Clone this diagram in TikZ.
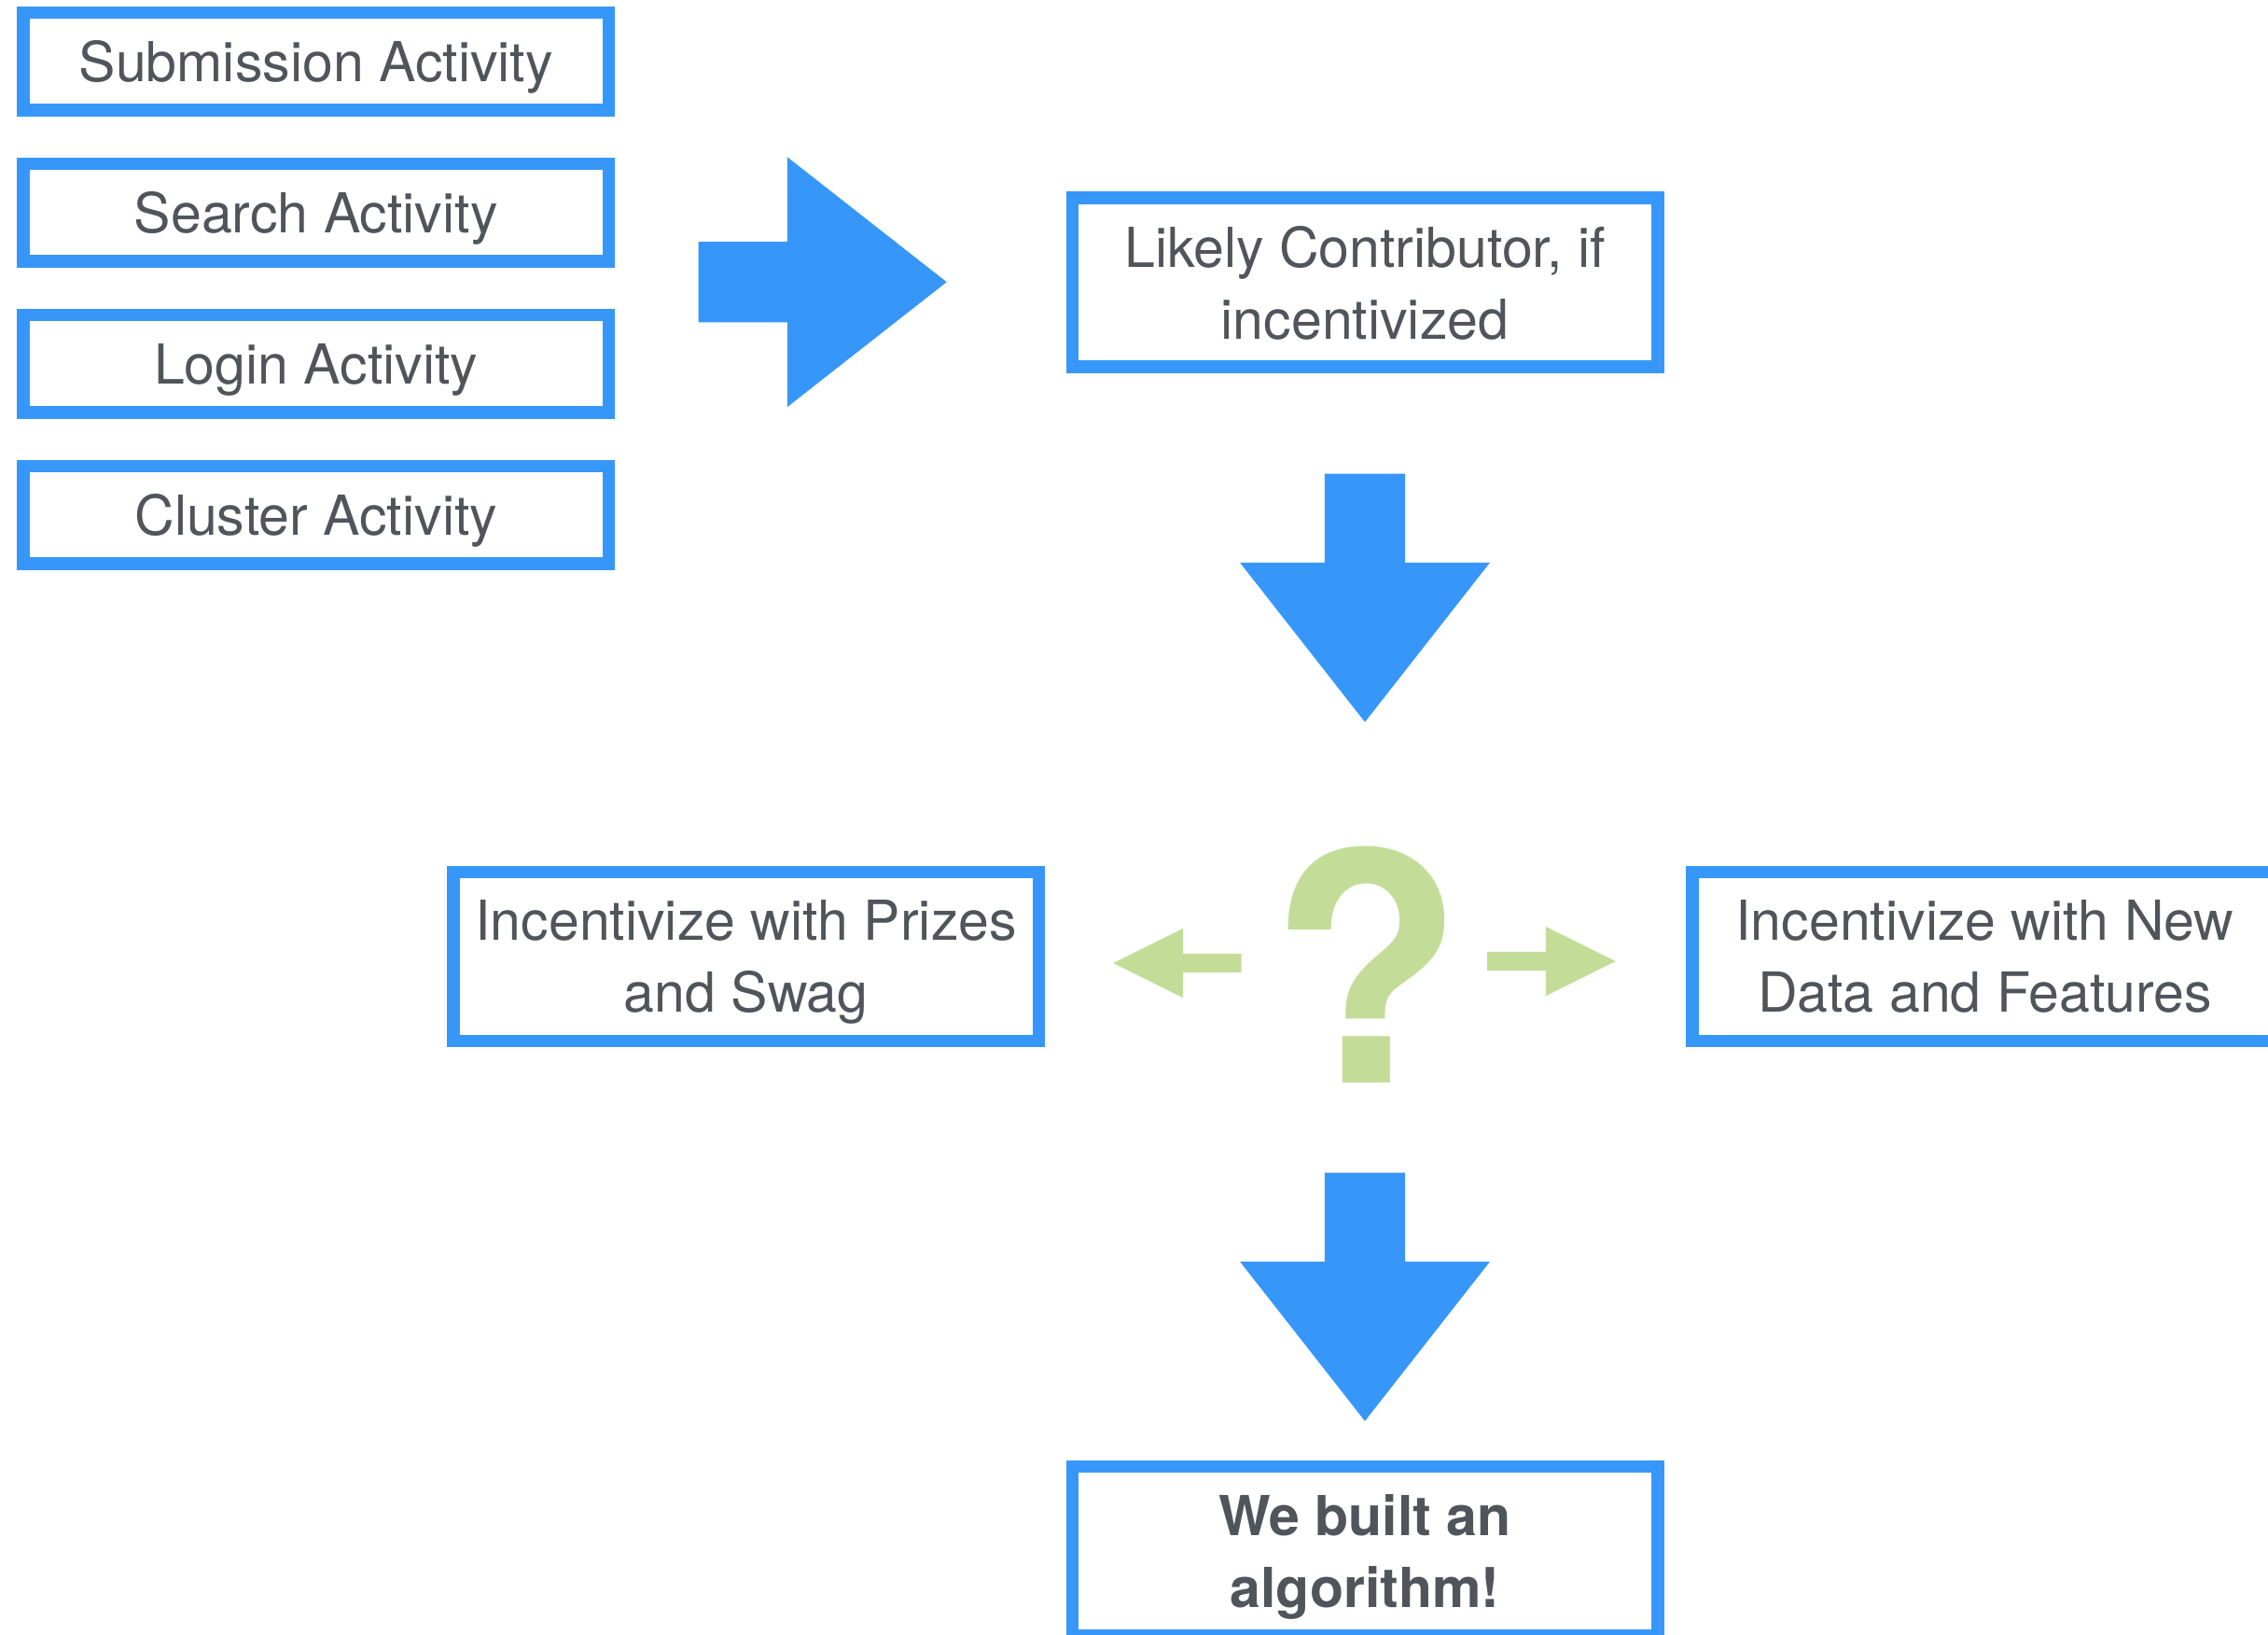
\documentclass[tikz,border=0pt]{standalone}
\usepackage{fontspec}
\setmainfont{TeX Gyre Heros}
\usetikzlibrary{shapes.arrows}
\definecolor{boxblue}{HTML}{3797F9}
\definecolor{labelgray}{HTML}{50555C}
\definecolor{askgreen}{HTML}{C3DD98}
\tikzset{
  actbox/.style={draw=boxblue, line width=0.135cm, fill=white, inner sep=0pt,
    text=labelgray, align=center, text depth=0pt,
    minimum width=6.275cm, minimum height=1.047cm,
    font=\fontsize{16.8}{21.9}\selectfont},
  tallbox/.style={actbox, minimum height=1.81cm},
  bigarrow/.style={single arrow, fill=boxblue, inner xsep=0pt, inner ysep=0.4245cm,
    anchor=tail, minimum height=2.66cm, minimum width=2.665cm,
    single arrow head extend=0.908cm, single arrow tip angle=76.2},
  smallarrow/.style={single arrow, fill=askgreen, inner xsep=0pt, inner ysep=0.0935cm,
    anchor=tail, minimum height=1.375cm, minimum width=0.73cm,
    single arrow head extend=0.2715cm, single arrow tip angle=52.8}
}
\begin{document}
\begin{tikzpicture}
        \clip (0,0) rectangle (24.31,-17.51);                                  %page
        \node [actbox]  (submit)  at (3.387,-0.658)   {Submission Activity};   %inputs
        \node [actbox]  (search)  at (3.387,-2.278)   {Search Activity};       %
        \node [actbox]  (login)   at (3.387,-3.898)   {Login Activity};        %
        \node [actbox]  (cluster) at (3.387,-5.518)   {Cluster Activity};      %
        \node [bigarrow]          (toright) at (7.48,-3.022)   {};             %
        \node [tallbox] (likely)  at (14.63,-3.027)   {Likely Contributor, if\\incentivized};
        \node [bigarrow, rotate=-90] (down1) at (14.63,-5.07)  {};             %

        \node [text=askgreen, inner sep=0pt, anchor=base,
               font=\fontsize{97}{97}\selectfont\bfseries] (ask) at (14.645,-11.60) {?};
        \node [smallarrow, rotate=180] (toprizes) at (13.314,-10.32) {};       %
        \node [smallarrow]             (todata)   at (15.935,-10.30) {};       %
        \node [tallbox] (prizes)  at (7.997,-10.248)  {Incentivize with Prizes\\and Swag};
        \node [tallbox] (newdata) at (21.275,-10.248) {Incentivize with New\\Data and Features};

        \node [bigarrow, rotate=-90] (down2) at (14.63,-12.56) {};             %
        \node [tallbox, font=\fontsize{16.8}{21.9}\selectfont\bfseries]
                        (algo)    at (14.63,-16.62)   {We built an\\algorithm!};
\end{tikzpicture}
\end{document}
